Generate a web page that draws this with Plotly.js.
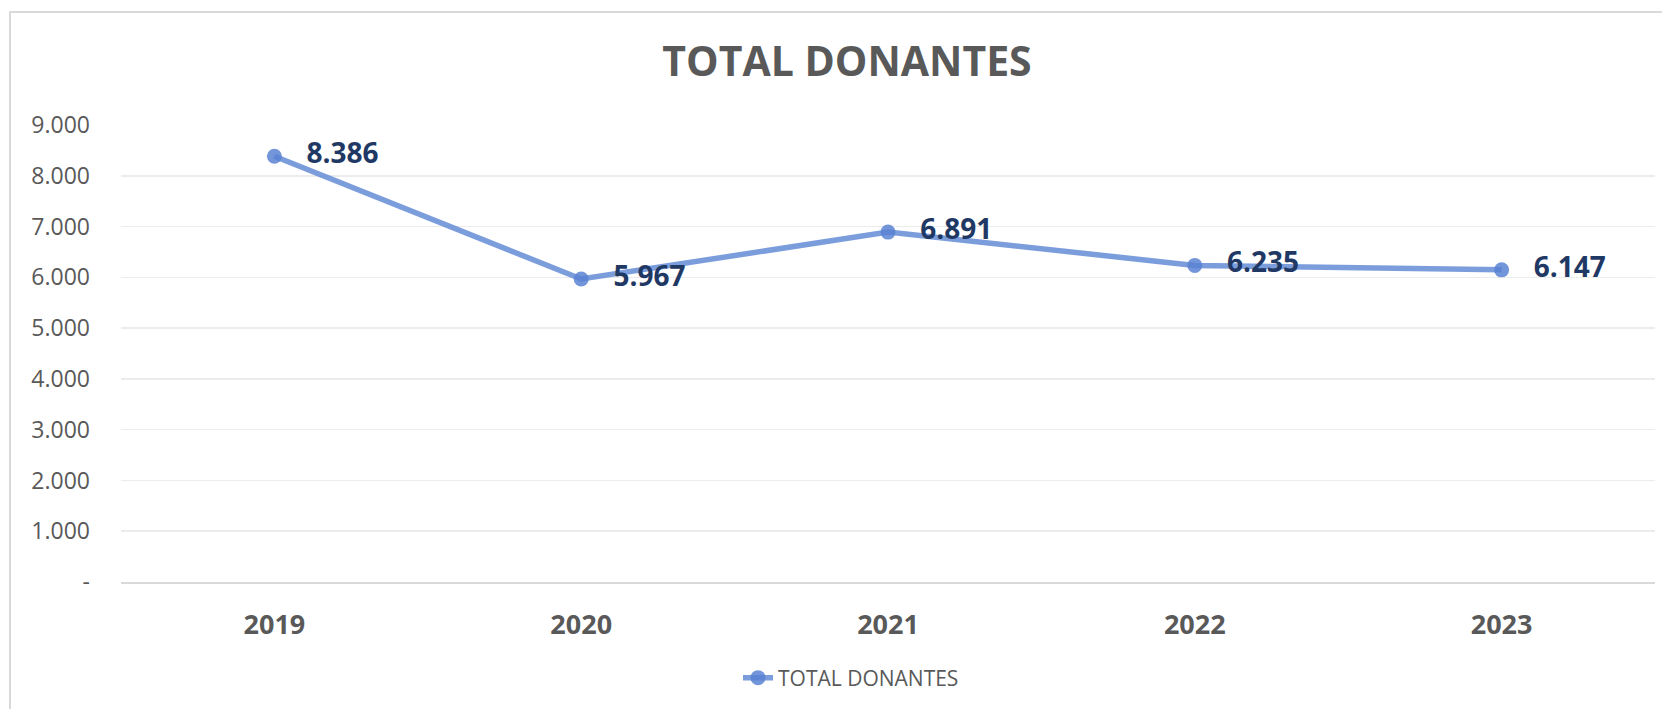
<!DOCTYPE html>
<html>
<head>
<meta charset="utf-8">
<script src="https://cdn.plot.ly/plotly-3.0.1.min.js"></script>
<style>
  html, body { margin: 0; padding: 0; background: #ffffff; overflow: hidden; }
  #frame { position: absolute; left: 9px; top: 11px; width: 1700px; height: 760px; border: 2px solid #d9d9d9; box-sizing: border-box; }
  #chart { position: absolute; left: 0; top: 0; width: 1662px; height: 709px; }
</style>
</head>
<body>
<div id="frame"></div>
<div id="chart"></div>
<script>
const years = ["2019", "2020", "2021", "2022", "2023"];
const donantes = [8386, 5967, 6891, 6235, 6147];
const donantesLabels = ["8.386", "5.967", "6.891", "6.235", "6.147"];
const yTickValues = [0, 1000, 2000, 3000, 4000, 5000, 6000, 7000, 8000, 9000];
const yTickLabels = ["-", "1.000", "2.000", "3.000", "4.000", "5.000", "6.000", "7.000", "8.000", "9.000"];
const seriesName = "TOTAL DONANTES";
const chartTitle = "TOTAL DONANTES";

const trace = {
  x: years,
  y: donantes,
  name: seriesName,
  type: "scatter",
  mode: "lines+markers+text",
  text: donantesLabels,
  texttemplate: "\u00a0\u00a0\u00a0%{text}",
  textposition: "middle right",
  textfont: { family: "Open Sans, sans-serif", size: 28, color: "#1f3864", weight: 700 },
  line: { color: "rgba(100,140,214,0.85)", width: 5.5 },
  marker: { color: "rgba(90,130,210,0.85)", size: 15 },
  cliponaxis: false,
  hoverinfo: "skip"
};

const layout = {
  width: 1662,
  height: 709,
  paper_bgcolor: "rgba(0,0,0,0)",
  plot_bgcolor: "rgba(0,0,0,0)",
  margin: { l: 121, r: 7, t: 125, b: 127 },
  title: {
    text: "<b>" + chartTitle + "</b>",
    font: { family: "Open Sans, sans-serif", size: 41, color: "#595959" },
    xref: "container", x: 847 / 1662, xanchor: "center",
    yref: "container", y: 1 - 62 / 709, yanchor: "middle"
  },
  xaxis: {
    type: "category",
    range: [-0.5, 4.5],
    showgrid: false,
    showline: true,
    linecolor: "#d9d9d9",
    linewidth: 2,
    zeroline: false,
    ticks: "",
    ticklabelstandoff: 18,
    tickfont: { family: "Open Sans, sans-serif", size: 27, color: "#595959", weight: 700 },
    fixedrange: true
  },
  yaxis: {
    range: [0, 9000],
    tickvals: yTickValues,
    ticktext: yTickLabels,
    showgrid: true,
    gridcolor: "#ececec",
    gridwidth: 1.5,
    zeroline: false,
    showline: false,
    ticks: "",
    ticklabelstandoff: 30,
    tickfont: { family: "Open Sans, sans-serif", size: 23, color: "#595959" },
    fixedrange: true
  },
  showlegend: true,
  legend: {
    orientation: "h",
    xref: "container", x: 851 / 1662, xanchor: "center",
    yref: "container", y: 1 - 678 / 709, yanchor: "middle",
    font: { family: "Open Sans, sans-serif", size: 21, color: "#595959" },
    bgcolor: "rgba(0,0,0,0)"
  },
  hovermode: false
};

Plotly.newPlot("chart", [trace], layout, { displayModeBar: false, staticPlot: true });
</script>
</body>
</html>
